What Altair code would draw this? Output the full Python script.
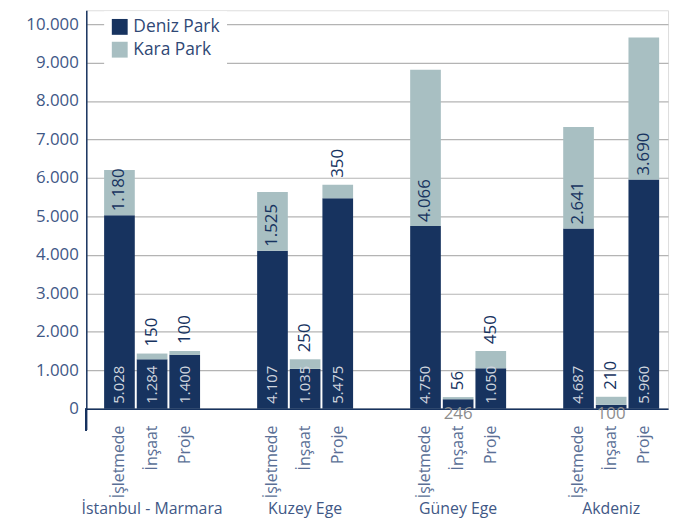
import altair as alt
import pandas as pd

regions = ["İstanbul - Marmara", "Kuzey Ege", "Güney Ege", "Akdeniz"]
stages = ["İşletmede", "İnşaat", "Proje"]
series_names = ["Deniz Park", "Kara Park"]
deniz = [5028, 1284, 1400, 4107, 1035, 5475, 4750, 246, 1050, 4687, 100, 5960]
kara = [1180, 150, 100, 1525, 250, 350, 4066, 56, 450, 2641, 210, 3690]
y_ticks = [0, 1000, 2000, 3000, 4000, 5000, 6000, 7000, 8000, 9000, 10000]

NAVY = "#17335f"
TEAL = "#a8bfc2"
AXIS_TXT = "#3f5886"
SUB_TXT = "#5a6f96"
FONT = "Open Sans"
W, H = 587, 402


def fmt(v):
    return f"{v:,}".replace(",", ".")


rows = []
for i, r in enumerate(regions):
    for j, s in enumerate(stages):
        k = i * 3 + j
        d, c = deniz[k], kara[k]
        rows.append(dict(region=r, stage=s, series=series_names[0], start=0, end=d, value=d, label=fmt(d)))
        rows.append(dict(region=r, stage=s, series=series_names[1], start=d, end=d + c, value=c, label=fmt(c)))
df = pd.DataFrame(rows)
stage_df = pd.DataFrame([dict(region=r, stage=s) for r in regions for s in stages])

x_enc = alt.X(
    "region:N",
    sort=regions,
    scale=alt.Scale(paddingInner=0.373, paddingOuter=0.0873, align=0.667),
    axis=alt.Axis(
        title=None, ticks=False, labelAngle=0, labelFontSize=16, labelFont=FONT,
        labelColor=AXIS_TXT, labelPadding=93, domainColor=NAVY,
        domainWidth=1.5, grid=False,
    ),
)
xo_enc = alt.XOffset("stage:N", sort=stages, scale=alt.Scale(paddingInner=0.06, paddingOuter=0))
y_scale = alt.Scale(domain=[0, 10360], nice=False)

base = alt.Chart(df)

bars = base.mark_bar().encode(
    x=x_enc,
    xOffset=xo_enc,
    y=alt.Y(
        "start:Q",
        scale=y_scale,
        axis=alt.Axis(
            title=None, values=y_ticks, ticks=False, labelFontSize=17, labelFont=FONT,
            labelColor=AXIS_TXT, labelPadding=8, domainColor=NAVY,
            domainWidth=1.5, gridColor="#b4b4b4", gridWidth=1.2,
            labelExpr="replace(format(datum.value, ','), ',', '.')",
        ),
    ),
    y2="end:Q",
    color=alt.Color(
        "series:N",
        scale=alt.Scale(domain=series_names, range=[NAVY, TEAL]),
        legend=alt.Legend(
            orient="none", legendX=18, legendY=1, title=None, symbolType="square",
            symbolSize=256, symbolStrokeWidth=0, labelFontSize=17.5, labelFont=FONT,
            labelColor="#2f4875", fillColor="white", padding=7,
            rowPadding=4, labelOffset=5,
        ),
    ),
)

common = dict(x=x_enc, xOffset=xo_enc, text="label:N")

dark_in = base.transform_filter(
    "datum.series == 'Deniz Park' && datum.value >= 500"
).mark_text(angle=270, align="left", baseline="middle", dx=5, fontSize=15, font=FONT,
            color="#cfd5de").encode(y=alt.Y("start:Q", scale=y_scale), **common)

dark_small = base.transform_filter(
    "datum.series == 'Deniz Park' && datum.value < 500"
).mark_text(align="center", baseline="middle", dy=5, fontSize=17, font=FONT,
            color="#8d8d8d").encode(y=alt.Y("start:Q", scale=y_scale), **common)

light_in = base.transform_filter(
    "datum.series == 'Kara Park' && datum.value >= 700"
).mark_text(angle=270, align="left", baseline="middle", dx=4, fontSize=17, font=FONT,
            color=NAVY).encode(y=alt.Y("start:Q", scale=y_scale), **common)

light_above = base.transform_filter(
    "datum.series == 'Kara Park' && datum.value < 700"
).mark_text(angle=270, align="left", baseline="middle", dx=7, fontSize=17, font=FONT,
            color=NAVY).encode(y=alt.Y("end:Q", scale=y_scale), **common)

sub_labels = alt.Chart(stage_df).mark_text(
    angle=270, align="right", baseline="middle", fontSize=16, font=FONT,
    color=SUB_TXT
).encode(x=x_enc, xOffset=xo_enc, y=alt.value(H + 17), text="stage:N")

axis_ext = alt.Chart(stage_df).mark_rule(color=NAVY, strokeWidth=1.5).encode(
    x=alt.value(0), y=alt.value(H), y2=alt.value(H + 22)
)

chart = alt.layer(bars, dark_in, dark_small, light_in, light_above, sub_labels, axis_ext).properties(
    width=W,
    height=H,
    autosize=alt.AutoSizeParams(type="none"),
    padding={"left": 79, "top": 0, "right": 5, "bottom": 110},
).configure_view(stroke=None).configure(font=FONT)

chart.save("out.html", embed_options={"renderer": "svg", "actions": False})
